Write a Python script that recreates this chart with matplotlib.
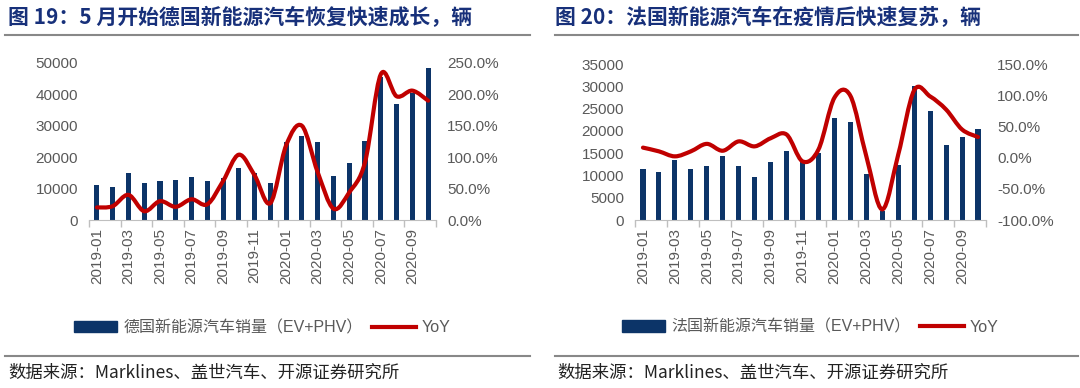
import matplotlib.pyplot as plt
from matplotlib.path import Path
from matplotlib.patches import PathPatch, Patch
from matplotlib.lines import Line2D
from matplotlib.ticker import FuncFormatter
import numpy as np

months = ['2019-01', '2019-02', '2019-03', '2019-04', '2019-05', '2019-06',
          '2019-07', '2019-08', '2019-09', '2019-10', '2019-11', '2019-12',
          '2020-01', '2020-02', '2020-03', '2020-04', '2020-05', '2020-06',
          '2020-07', '2020-08', '2020-09', '2020-10']

de_sales = [11150, 10500, 14900, 11900, 12400, 12750, 13700, 12400, 13500, 16700, 15100,
            11900, 24750, 26700, 24750, 14150, 18000, 25100, 45400, 36800, 40600, 48400]
de_yoy = [20, 22, 40, 14, 30, 21, 33, 25, 62, 104, 71,
          27, 119, 150, 76, 18, 44, 92, 232, 197, 206, 190]

fr_sales = [11550, 10800, 13560, 11400, 12200, 14380, 12150, 9540, 13040, 15500, 13190,
            15130, 22950, 21980, 10300, 2000, 12440, 30100, 24370, 16770, 18630, 20340]
fr_yoy = [16, 10, 2, 10, 22, 11, 26, 18, 31, 37, -6,
          13, 96, 99, 2, -83, 5, 108, 98, 77, 45, 33]

BAR = '#0C3468'
RED = '#C00000'
GREY = '#595959'
TITLE = '#17307A'
FONT = ['Liberation Sans', 'Noto Sans CJK SC']
CJK = ['Noto Sans CJK SC', 'DejaVu Sans']


def smooth_path(x, y):
    # catmull-rom -> cubic bezier, like excel's smoothed line
    pts = np.column_stack([x, y]).astype(float)
    n = len(pts)
    verts = [pts[0]]
    codes = [Path.MOVETO]
    for i in range(n - 1):
        p0 = pts[i - 1] if i > 0 else pts[i]
        p1 = pts[i]
        p2 = pts[i + 1]
        p3 = pts[i + 2] if i + 2 < n else pts[i + 1]
        c1 = p1 + (p2 - p0) / 6.0
        c2 = p2 - (p3 - p1) / 6.0
        verts += [c1, c2, p2]
        codes += [Path.CURVE4] * 3
    return Path(verts, codes)


def draw_panel(fig, rect, sales, yoy, ymax, ystep, pmin, pmax, label):
    ax = fig.add_axes(rect)
    x = np.arange(len(months))
    ax.bar(x, sales, width=0.32, color=BAR, zorder=2)
    ax.set_xlim(-0.5, len(months) - 0.5)
    ax.set_ylim(0, ymax)
    ax.set_yticks(np.arange(0, ymax + 1, ystep))
    ax.set_xticks(x[::2])
    ax.set_xticklabels(months[::2], rotation=90, family=FONT, fontsize=11, color=GREY)
    ax.set_xticks(np.arange(-0.5, len(months), 2), minor=True)
    ax.tick_params(axis='x', which='major', length=0, pad=6)
    ax.tick_params(axis='x', which='minor', length=5, color='#BFBFBF', width=1)
    ax.tick_params(axis='y', length=0, labelsize=11, labelcolor=GREY, pad=8)
    for t in ax.get_yticklabels():
        t.set_family(FONT)
    for s in ['top', 'left', 'right']:
        ax.spines[s].set_visible(False)
    ax.spines['bottom'].set_color('#BFBFBF')

    ax2 = ax.twinx()
    ax2.set_ylim(pmin, pmax)
    ax2.set_yticks(np.arange(pmin, pmax + 1, 50))
    ax2.yaxis.set_major_formatter(FuncFormatter(lambda v, p: '%.1f%%' % v))
    ax2.tick_params(axis='y', length=0, labelsize=11, labelcolor=GREY, pad=8)
    for t in ax2.get_yticklabels():
        t.set_family(FONT)
    for s in ['top', 'left', 'right', 'bottom']:
        ax2.spines[s].set_visible(False)
    ax2.add_patch(PathPatch(smooth_path(x, yoy), fill=False, edgecolor=RED,
                            lw=3, capstyle='round', joinstyle='round'))

    handles = [Patch(color=BAR), Line2D([], [], color=RED, lw=3)]
    ax.legend(handles, [label, 'YoY'], loc='center', bbox_to_anchor=(0.5, -0.685),
              ncol=2, frameon=False, handlelength=2.7, handleheight=0.7,
              columnspacing=0.6, handletextpad=0.4,
              prop={'family': FONT, 'size': 11.5}, labelcolor=GREY)
    return ax


fig = plt.figure(figsize=(10.8, 3.88), dpi=100)

draw_panel(fig, [89 / 1080, 1 - 220 / 388, 347 / 1080, 157 / 388],
           de_sales, de_yoy, 50000, 10000, 0, 250, '德国新能源汽车销量（EV+PHV）')
draw_panel(fig, [635 / 1080, 1 - 220 / 388, 351 / 1080, 156 / 388],
           fr_sales, fr_yoy, 35000, 5000, -100, 150, '法国新能源汽车销量（EV+PHV）')

fig.text(8 / 1080, 1 - 18 / 388, '图 19：5 月开始德国新能源汽车恢复快速成长，辆',
         family=CJK, fontsize=15, weight='bold', color=TITLE, va='center')
fig.text(555 / 1080, 1 - 18 / 388, '图 20：法国新能源汽车在疫情后快速复苏，辆',
         family=CJK, fontsize=15, weight='bold', color=TITLE, va='center')

for x0, x1 in [(5, 530), (555, 1078)]:
    fig.add_artist(Line2D([x0 / 1080, x1 / 1080], [1 - 35 / 388] * 2, color='#888888', lw=1.5))
    fig.add_artist(Line2D([x0 / 1080, x1 / 1080], [1 - 356 / 388] * 2, color='#888888', lw=1.5))

fig.text(8 / 1080, 1 - 373 / 388, '数据来源：Marklines、盖世汽车、开源证券研究所',
         family=CJK, fontsize=12.5, color='#222222', va='center')
fig.text(557 / 1080, 1 - 373 / 388, '数据来源：Marklines、盖世汽车、开源证券研究所',
         family=CJK, fontsize=12.5, color='#222222', va='center')

fig.savefig('out.png', dpi=100)
